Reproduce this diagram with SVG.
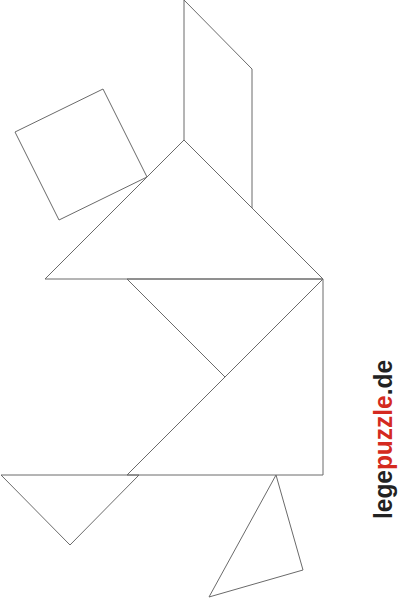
<svg xmlns="http://www.w3.org/2000/svg" width="400" height="598" viewBox="0 0 400 598">
<style>
.p{fill:none;stroke:#6a6a6a;stroke-width:1;stroke-linejoin:miter}
.t{font-family:"Liberation Sans",Arial,sans-serif;font-weight:bold;font-size:26px;fill:#222}
.r{fill:#d42a20}
</style>
<rect width="400" height="598" fill="#fff"/>
<g id="square"><polygon class="p" points="103,89 15,132 59,220 147,177"/></g>
<g id="parallelogram"><polygon class="p" points="184,0 252,69 252,208 184,140"/></g>
<g id="big-triangle-top"><polygon class="p" points="184,140 45,279 323,279"/></g>
<g id="middle-triangle"><polygon class="p" points="127,279 323,279 225,377"/></g>
<g id="big-triangle-bottom"><polygon class="p" points="323,279 323,475 127,475"/></g>
<g id="small-triangle-left"><polygon class="p" points="1,475 139,475 70,545"/></g>
<g id="small-triangle-right"><polygon class="p" points="276,475 303,570 209,597"/></g>
<g id="logo"><text class="t" transform="translate(392,519) rotate(-90)" textLength="159" lengthAdjust="spacingAndGlyphs">lege<tspan class="r">puzzle</tspan>.de</text></g>
</svg>
